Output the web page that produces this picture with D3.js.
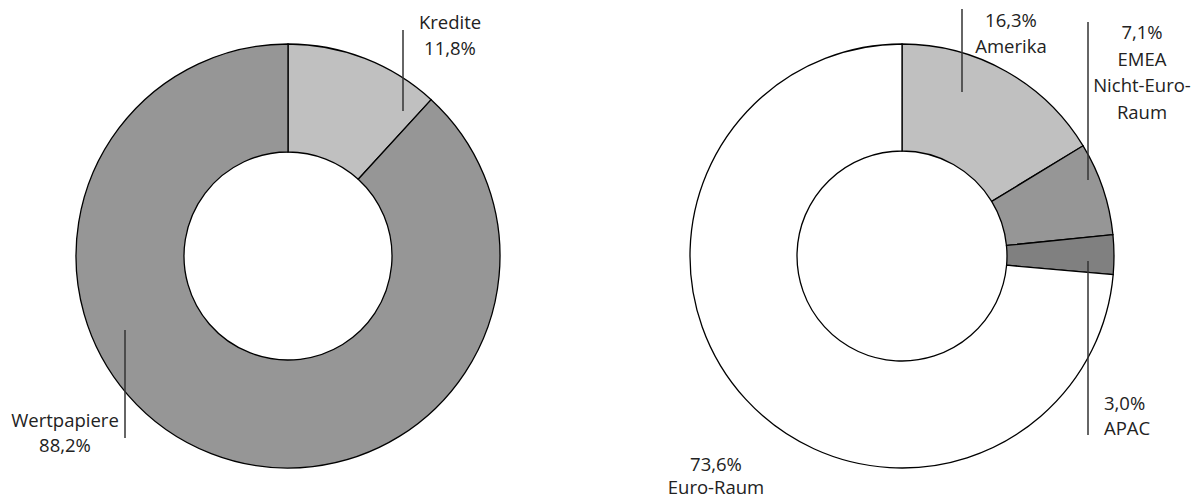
<!DOCTYPE html>
<html><head><meta charset="utf-8">
<script src="https://cdn.jsdelivr.net/npm/d3@7"></script>
<style>body{margin:0;background:#fff}svg{display:block}text{font-family:"Open Sans",sans-serif;font-size:18.5px;fill:#222}</style>
</head><body><svg id="c" width="1198" height="500"></svg>
<script>
const leftCategories = ["Kredite", "Wertpapiere"];
const leftValues = [11.8, 88.2];
const leftColors = ["#c0c0c0", "#969696"];
const rightCategories = ["Amerika", "EMEA Nicht-Euro-Raum", "APAC", "Euro-Raum"];
const rightValues = [16.3, 7.1, 3.0, 73.6];
const rightColors = ["#c0c0c0", "#969696", "#808080", "#ffffff"];

const svg = d3.select("#c");
const fmt = v => d3.format(".1f")(v).replace(".", ",") + "%";

function donut(cx, cy, rO, rI, values, colors) {
  const pie = d3.pie().sort(null).value(d => d);
  const arc = d3.arc().innerRadius(rI).outerRadius(rO);
  const g = svg.append("g").attr("transform", `translate(${cx},${cy})`);
  g.selectAll("path").data(pie(values)).join("path")
    .attr("d", arc).attr("fill", (d, i) => colors[i])
    .attr("stroke", "#000").attr("stroke-width", 1.3);
}
donut(288, 256, 212, 104, leftValues, leftColors);
donut(902, 256, 212, 105, rightValues, rightColors);

function leader(x, y1, y2) {
  svg.append("line").attr("x1", x).attr("x2", x).attr("y1", y1).attr("y2", y2)
    .attr("stroke", "#333").attr("stroke-width", 1.5);
}
function label(x, y, lines, anchor, step) {
  const t = svg.append("text").attr("text-anchor", anchor || "middle");
  lines.forEach((l, i) => t.append("tspan").attr("x", x).attr("y", y + i * (step || 26)).text(l));
}
// Left
leader(403, 30, 111);
label(450, 29, [leftCategories[0], fmt(leftValues[0])]);
leader(125, 330, 438);
label(65, 427, [leftCategories[1], fmt(leftValues[1])], "middle", 25);
// Right
leader(962, 9, 92);
label(1011, 27, [fmt(rightValues[0]), rightCategories[0]]);
leader(1088, 22, 180);
label(1142, 39, [fmt(rightValues[1]), "EMEA", "Nicht-Euro-", "Raum"], "middle", 26.7);
leader(1088, 261, 435);
label(1104, 410, [fmt(rightValues[2]), rightCategories[2]], "start", 25);
label(716, 471, [fmt(rightValues[3]), rightCategories[3]], "middle", 23);
</script></body></html>
